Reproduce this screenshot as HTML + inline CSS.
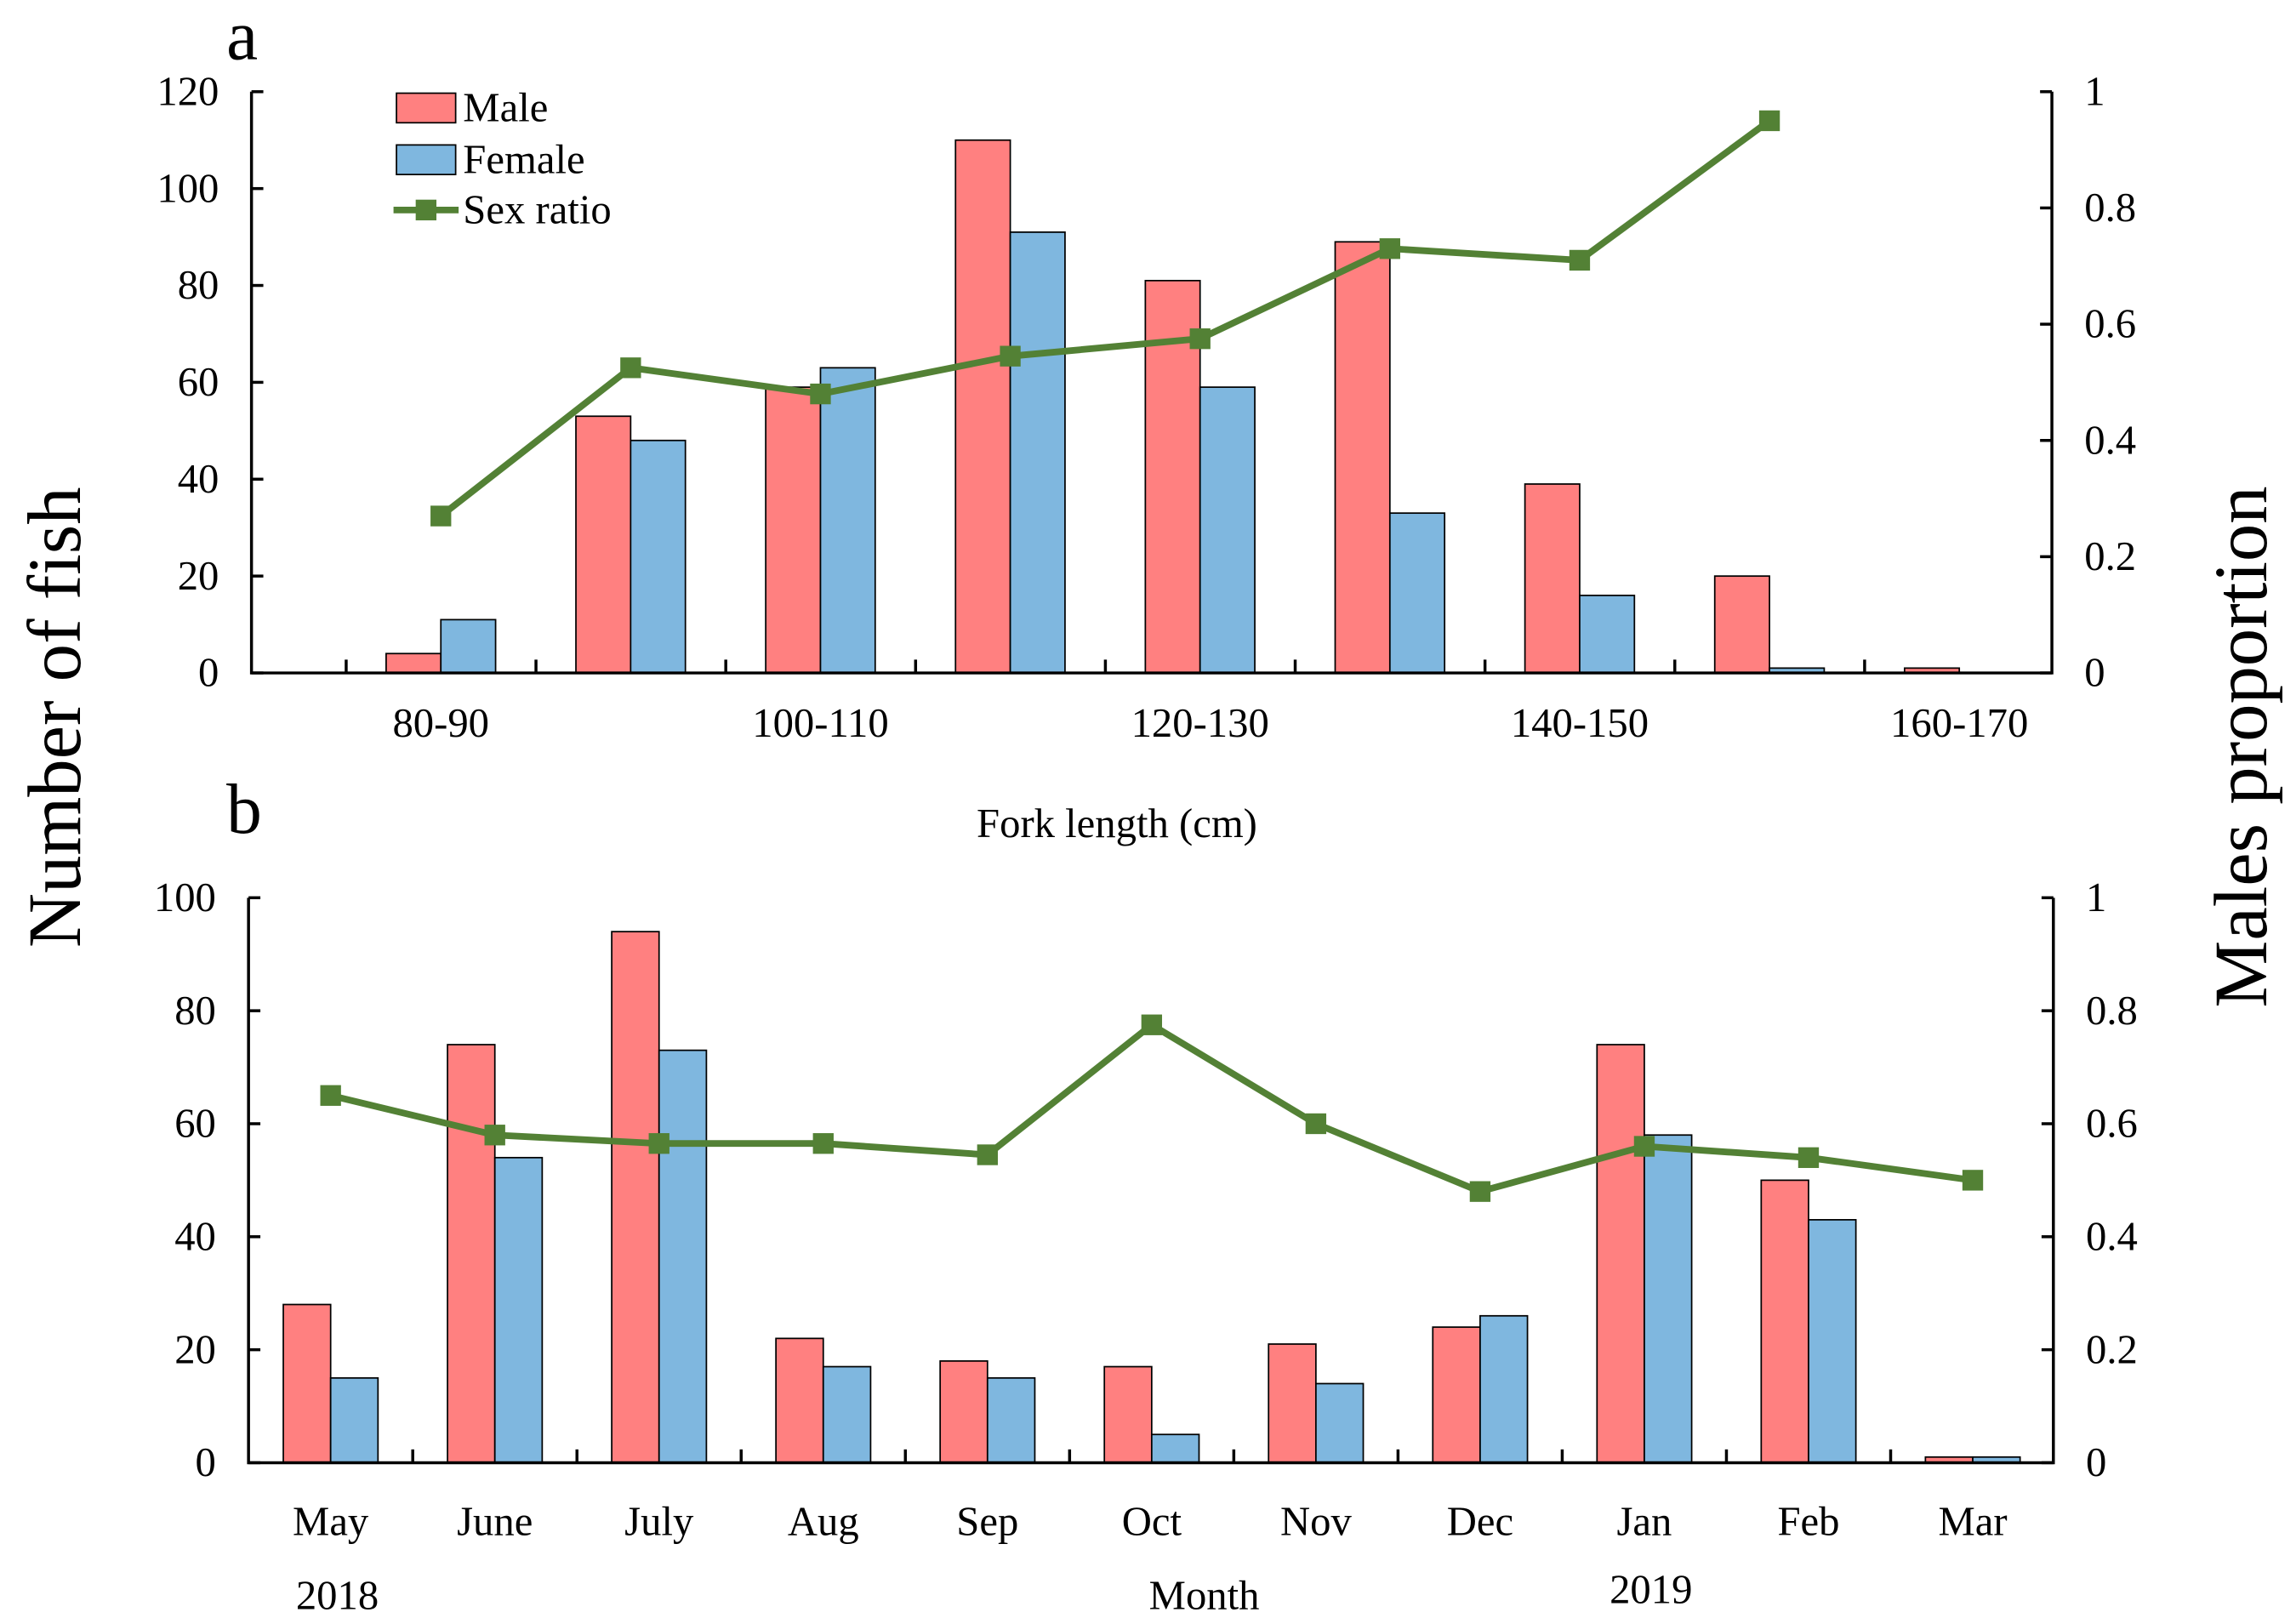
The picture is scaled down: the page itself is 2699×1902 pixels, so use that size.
<!DOCTYPE html>
<html><head><meta charset="utf-8"><style>
html,body{margin:0;padding:0;background:#fff}
svg{display:block;font-family:"Liberation Serif",serif}
</style></head><body>
<svg id="chart" width="2699" height="1902" viewBox="0 0 1552 1094" preserveAspectRatio="none" xmlns="http://www.w3.org/2000/svg"></svg>
<script>
const aCategories=["80-90","90-100","100-110","110-120","120-130","130-140","140-150","150-160","160-170"];
const aMale=[4,53,59,110,81,89,39,20,1];
const aFemale=[11,48,63,91,59,33,16,1,0];
const aRatio=[0.27,0.525,0.48,0.545,0.575,0.73,0.71,0.95,null];
const aLeftTicks=[0,20,40,60,80,100,120];
const aRightTicks=["0","0.2","0.4","0.6","0.8","1"];
const bCategories=["May","June","July","Aug","Sep","Oct","Nov","Dec","Jan","Feb","Mar"];
const bMale=[28,74,94,22,18,17,21,24,74,50,1];
const bFemale=[15,54,73,17,15,5,14,26,58,43,1];
const bRatio=[0.65,0.58,0.565,0.565,0.545,0.775,0.60,0.48,0.56,0.54,0.50];
const bLeftTicks=[0,20,40,60,80,100];
const bRightTicks=["0","0.2","0.4","0.6","0.8","1"];

const NS="http://www.w3.org/2000/svg";
const svg=document.getElementById('chart');
function mk(tag,attrs,parent,text){const e=document.createElementNS(NS,tag);for(const k in attrs)e.setAttribute(k,attrs[k]);if(text!==undefined)e.textContent=text;(parent||svg).appendChild(e);return e;}

function panel(o){
  const g=mk('g',{});
  
  
  const y=v=>o.y0-(v/o.ymax)*(o.y0-o.y1);
  const yr=v=>o.y0-v*(o.y0-o.y1);
  const x=i=>o.xc0+o.step*i;
  const bw=o.bw;
  o.male.forEach((v,i)=>{
    const r=mk('rect',{x:x(i)-bw,y:y(v),width:bw,height:o.y0-y(v),fill:'#ff8080',stroke:'#000','stroke-width':1},g);
    
    
  });
  o.female.forEach((v,i)=>{
    if(v<=0)return;
    const r=mk('rect',{x:x(i),y:y(v),width:bw,height:o.y0-y(v),fill:'#7fb7df',stroke:'#000','stroke-width':1},g);
    
    
  });
  const ax=mk('path',{d:`M${o.xl},${o.y1} V${o.y0} H${o.xr} V${o.y1}`,fill:'none',stroke:'#000','stroke-width':2},g);
  
  
  o.lt.forEach(v=>{
    mk('line',{x1:o.xl,x2:o.xl+8,y1:y(v),y2:y(v),stroke:'#000','stroke-width':2},g);
    const t=mk('text',{x:o.xl-22,y:y(v)+9,'text-anchor':'end','font-size':28},g,String(v));
    
    
  });
  o.rt.forEach((s,k)=>{
    const yy=yr(k*0.2);
    mk('line',{x1:o.xr-8,x2:o.xr,y1:yy,y2:yy,stroke:'#000','stroke-width':2},g);
    const t=mk('text',{x:o.xr+22,y:yy+9,'font-size':28},g,s);
    
    
  });
  for(let k=0;k<o.nTicks;k++){const tx=o.tick0+o.step*k;mk('line',{x1:tx,x2:tx,y1:o.y0,y2:o.y0-9,stroke:'#000','stroke-width':2},g);}
  o.cats.forEach((c,i)=>{
    if(o.labelEvery&&i%o.labelEvery)return;
    const t=mk('text',{x:x(i)+o.labOff,y:o.labY,'text-anchor':'middle','font-size':28},g,c);
    
    
  });
  let pts=[];o.ratio.forEach((v,i)=>{if(v!==null)pts.push([x(i),yr(v)]);});
  const pl=mk('polyline',{points:pts.map(p=>p.join(',')).join(' '),fill:'none',stroke:'#538135','stroke-width':4.5},g);
  
  
  pts.forEach(p=>{
    const m=mk('rect',{x:p[0]-7,y:p[1]-7,width:14,height:14,fill:'#538135'},g);
    
    
  });
}
panel({name:'panel-a',cats:aCategories,male:aMale,female:aFemale,ratio:aRatio,lt:aLeftTicks,rt:aRightTicks,ymax:120,
  xl:170,xr:1387,y0:455,y1:62,xc0:298,step:128.3,bw:37,tick0:234,nTicks:9,labelEvery:2,labOff:0,labY:498});
panel({name:'panel-b',cats:bCategories,male:bMale,female:bFemale,ratio:bRatio,lt:bLeftTicks,rt:bRightTicks,ymax:100,
  xl:168,xr:1388,y0:989,y1:607,xc0:223.5,step:111,bw:32,tick0:279,nTicks:10,labelEvery:0,labOff:0,labY:1038});

function txt(a,s,name){const t=mk('text',a,svg,s);return t;}
txt({x:153,y:40,'font-size':48},'a','panel-a-label');
txt({x:153,y:563,'font-size':48},'b','panel-b-label');
txt({x:755,y:566,'text-anchor':'middle','font-size':28},'Fork length (cm)','x-axis-title-a');
txt({x:814,y:1088,'text-anchor':'middle','font-size':28},'Month','x-axis-title-b');
txt({x:228,y:1088,'text-anchor':'middle','font-size':28},'2018','year-2018-label');
txt({x:1116,y:1084,'text-anchor':'middle','font-size':28},'2019','year-2019-label');
txt({x:0,y:0,'text-anchor':'middle','font-size':51,transform:'translate(54,485) rotate(-90)'},'Number of fish','y-axis-title-left');
txt({x:0,y:0,'text-anchor':'middle','font-size':51,transform:'translate(1532,505) rotate(-90)'},'Males proportion','y-axis-title-right');
const lg=mk('g',{});


mk('rect',{x:268,y:63,width:40,height:20,fill:'#ff8080',stroke:'#000','stroke-width':1},lg);
mk('text',{x:313,y:82,'font-size':28},lg,'Male');
mk('rect',{x:268,y:98,width:40,height:20,fill:'#7fb7df',stroke:'#000','stroke-width':1},lg);
mk('text',{x:313,y:117,'font-size':28},lg,'Female');
mk('line',{x1:266,x2:310,y1:142,y2:142,stroke:'#538135','stroke-width':4.5},lg);
mk('rect',{x:281,y:135,width:14,height:14,fill:'#538135'},lg);
mk('text',{x:313,y:151,'font-size':28},lg,'Sex ratio');
</script>
</body></html>
